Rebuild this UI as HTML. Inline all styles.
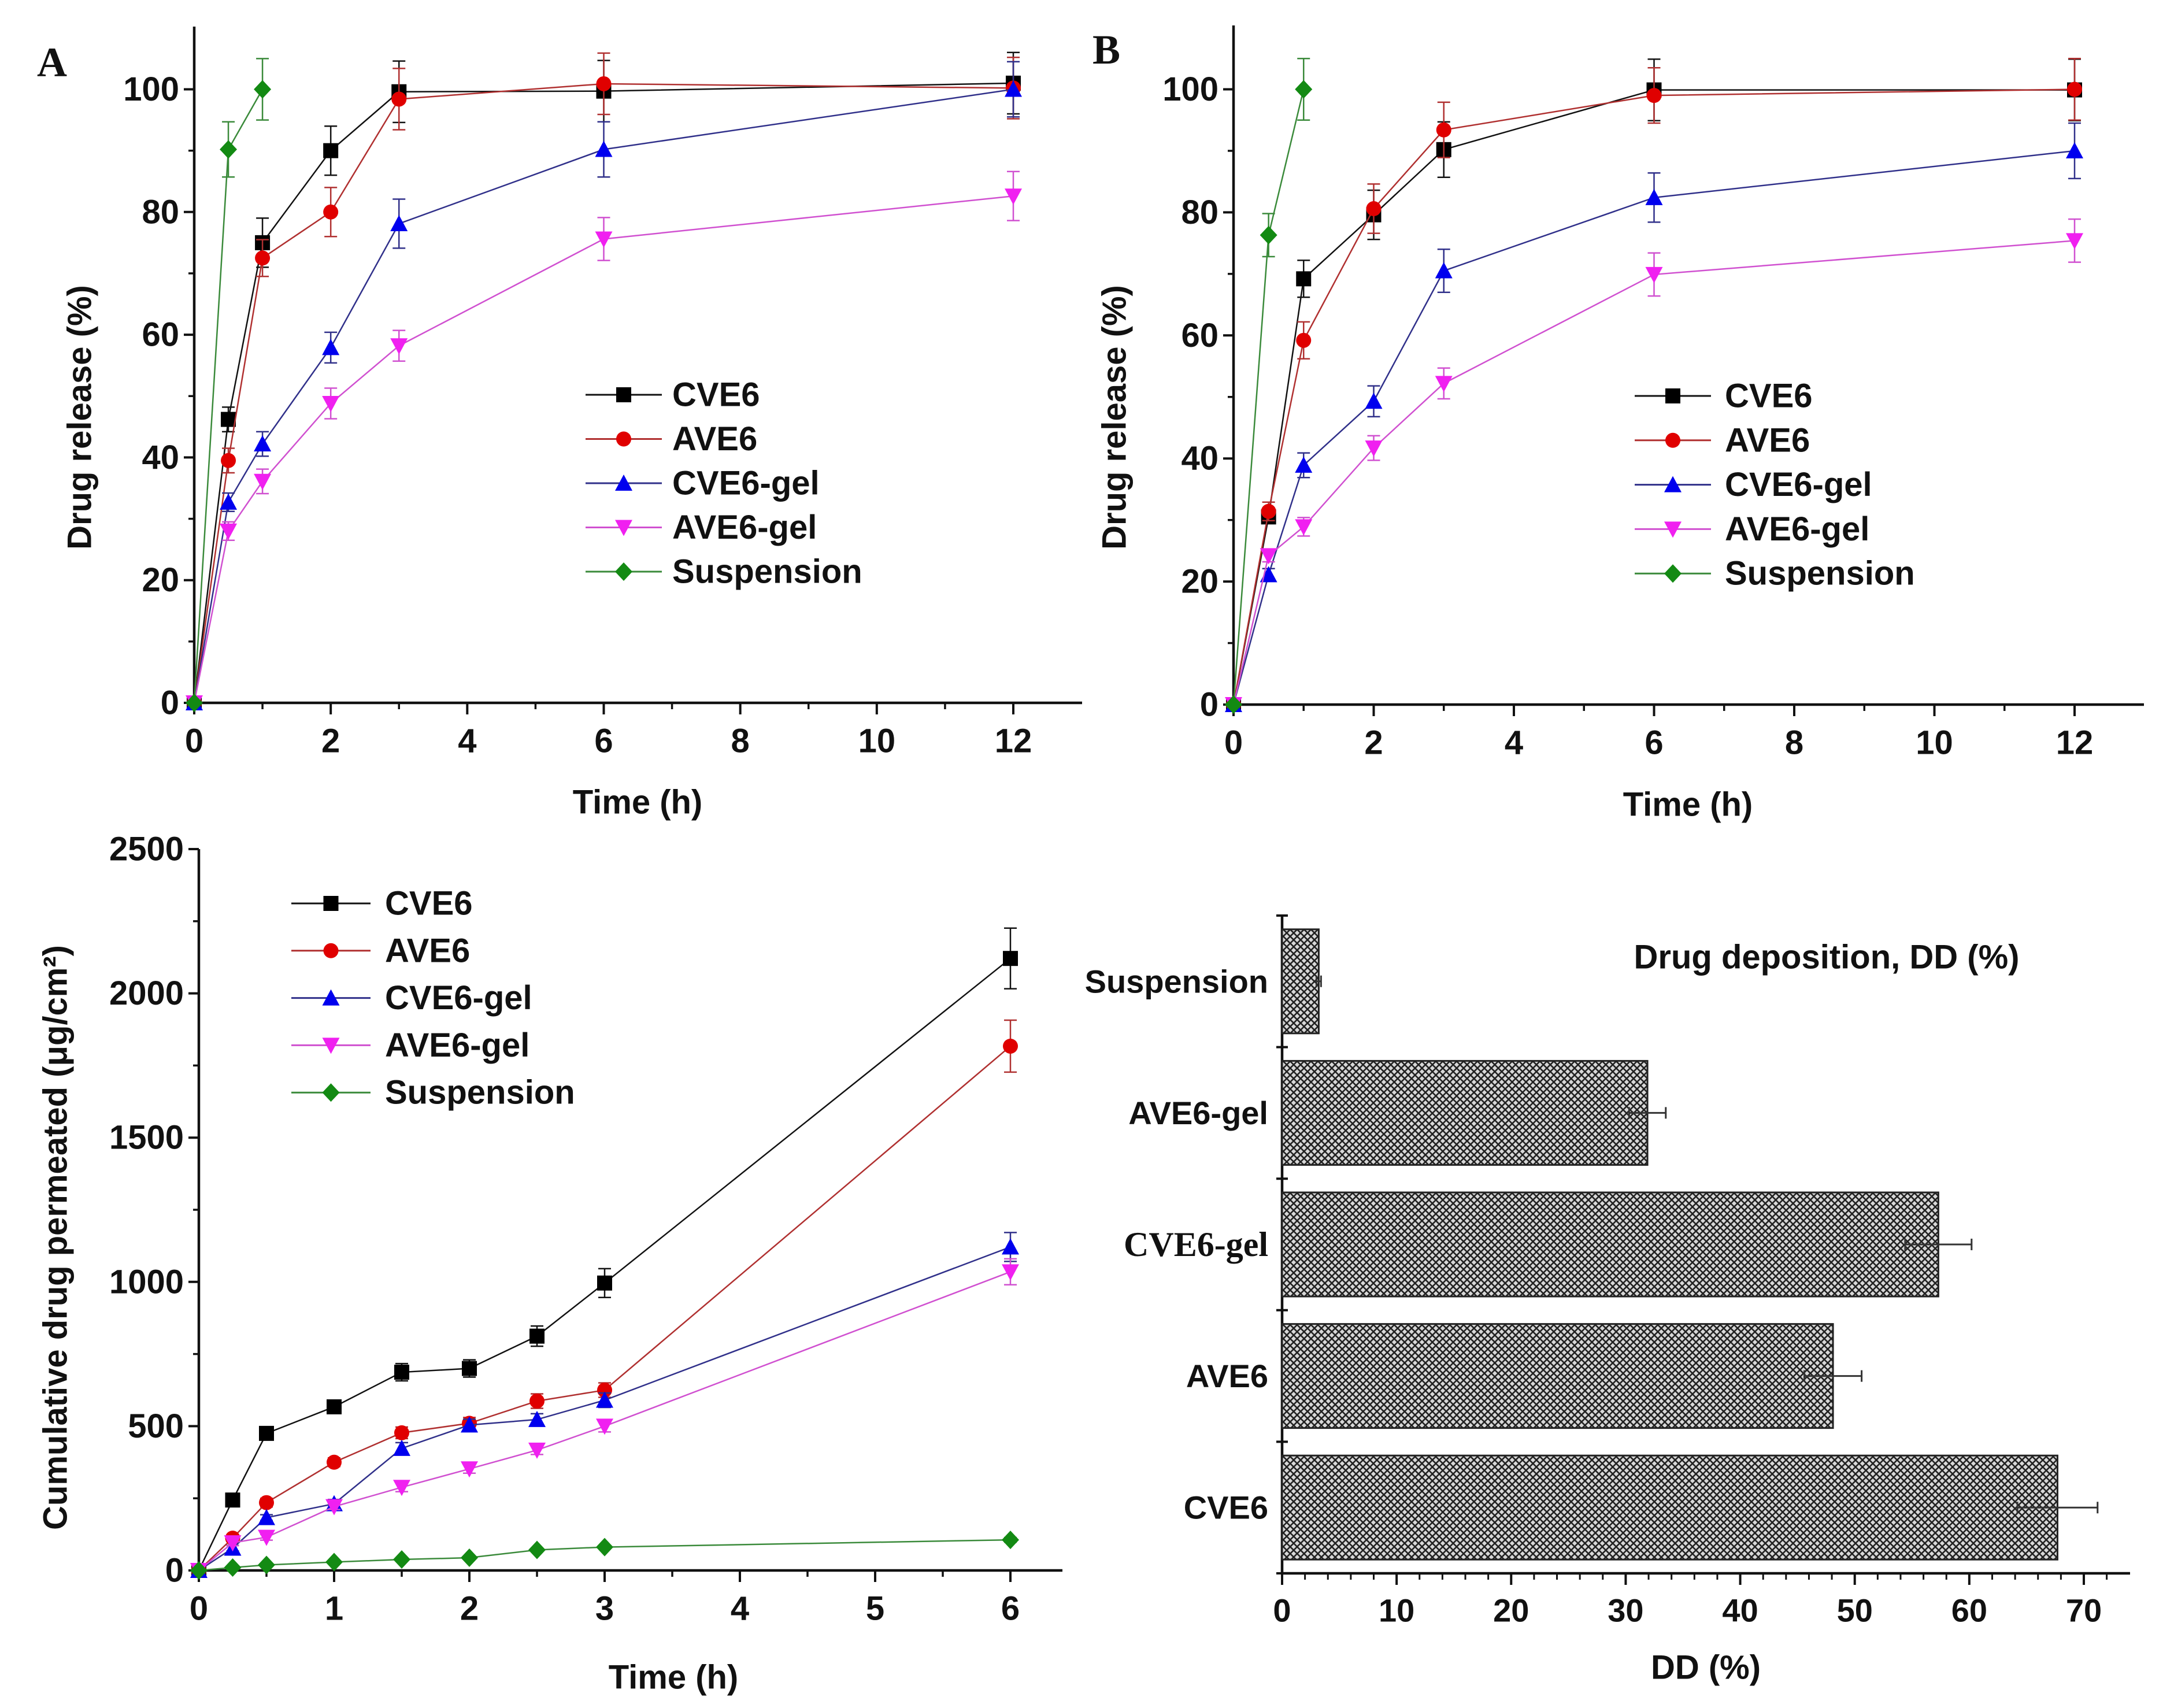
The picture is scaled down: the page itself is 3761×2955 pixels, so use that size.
<!DOCTYPE html>
<html><head><meta charset="utf-8"><style>
html,body{margin:0;padding:0;background:#fff}
svg{display:block}
text{font-family:"Liberation Sans",Arial,sans-serif;font-weight:bold;fill:#111}
</style></head><body>
<svg id="fig" width="3761" height="2955" viewBox="0 0 3761 2955" xmlns="http://www.w3.org/2000/svg">
<defs>
<pattern id="hatch" width="12" height="12" patternUnits="userSpaceOnUse">
<rect width="12" height="12" fill="#d8d8d8"/>
<path d="M0,0 L12,12 M12,0 L0,12" stroke="#222" stroke-width="2.6"/>
</pattern>
</defs>
</svg>
<script>
// ---- data ----
const seriesNames = ["CVE6","AVE6","CVE6-gel","AVE6-gel","Suspension"];
const releaseTimes = [0,0.5,1,2,3,6,12];
const suspTimes = [0,0.5,1];
const A_CVE6 = [0,46.2,75,90,99.6,99.7,101];
const A_AVE6 = [0,39.5,72.5,80,98.4,100.9,100.2];
const A_CVE6gel = [0,32.7,42.2,57.9,78.1,90.2,100];
const A_AVE6gel = [0,28,36.1,48.8,58.2,75.6,82.6];
const A_Susp = [0,90.2,100];
const A_errCVE6 = [0,2,4,4,5,5,5];
const A_errAVE6 = [0,2,3,4,5,5,5];
const A_errCVE6gel = [0,1.5,2,2.5,4,4.5,4.5];
const A_errAVE6gel = [0,1.5,2,2.5,2.5,3.5,4];
const A_errSusp = [0,4.5,5];
const B_CVE6 = [0,30.5,69.2,79.6,90.2,99.9,99.9];
const B_AVE6 = [0,31.4,59.2,80.6,93.4,99,100];
const B_CVE6gel = [0,21.1,38.9,49.3,70.5,82.4,90];
const B_AVE6gel = [0,24.2,28.9,41.7,52.2,69.9,75.4];
const B_Susp = [0,76.3,100];
const B_errCVE6 = [0,1,3,4,4.5,5,5];
const B_errAVE6 = [0,1.5,3,4,4.5,4.5,5];
const B_errCVE6gel = [0,1,2,2.5,3.5,4,4.5];
const B_errAVE6gel = [0,1,1.5,2,2.5,3.5,3.5];
const B_errSusp = [0,3.5,5];
const permTimes = [0,0.25,0.5,1,1.5,2,2.5,3,6];
const C_CVE6 = [0,244,475,567,687,700,812,996,2121];
const C_AVE6 = [0,112,235,375,477,510,587,625,1817];
const C_CVE6gel = [0,77,183,231,423,504,523,590,1121];
const C_AVE6gel = [0,96,115,221,288,352,417,500,1035];
const C_Susp = [0,10,19,29,38,44,71,81,106];
const C_errCVE6 = [0,15,20,20,30,30,35,50,105];
const C_errAVE6 = [0,10,15,15,20,20,25,25,90];
const C_errCVE6gel = [0,10,10,15,20,20,20,25,50];
const C_errAVE6gel = [0,10,10,10,15,15,15,20,45];
const C_errSusp = [0,3,3,4,4,5,6,6,8];
const ddCategories = ["Suspension","AVE6-gel","CVE6-gel","AVE6","CVE6"];
const ddValues = [3.2,31.9,57.3,48.1,67.7];
const ddErrors = [0.2,1.6,2.9,2.5,3.5];
const releaseYTicks = [0,20,40,60,80,100];
const releaseXTicks = [0,2,4,6,8,10,12];
const permYTicks = [0,500,1000,1500,2000,2500];
const permXTicks = [0,1,2,3,4,5,6];
const ddXTicks = [0,10,20,30,40,50,60,70];

const svg = document.getElementById('fig');
const NS = 'http://www.w3.org/2000/svg';
function mk(tag, attrs, parent){const e=document.createElementNS(NS,tag);for(const k in attrs)e.setAttribute(k,attrs[k]);(parent||svg).appendChild(e);return e;}
function txt(s,x,y,size,anchor,parent,extra){const t=mk('text',Object.assign({x:x,y:y,'font-size':size,'text-anchor':anchor||'middle','dominant-baseline':'central'},extra||{}),parent);t.textContent=s;return t;}

const mColors = ["#000","#e00000","#0000ee","#f020f0","#138a13"];
const lColors = ["#111","#b03030","#30308a","#d050d0","#3a8a3a"];
const shapes = ["sq","ci","tu","td","di"];
function marker(shape,x,y,c,g){
  const s=13;
  if(shape==='sq') return mk('rect',{x:x-s,y:y-s,width:2*s,height:2*s,fill:c},g);
  if(shape==='ci') return mk('circle',{cx:x,cy:y,r:s,fill:c},g);
  if(shape==='tu') return mk('polygon',{points:`${x},${y-s-2} ${x-s-2},${y+s} ${x+s+2},${y+s}`,fill:c},g);
  if(shape==='td') return mk('polygon',{points:`${x},${y+s+2} ${x-s-2},${y-s} ${x+s+2},${y-s}`,fill:c},g);
  return mk('polygon',{points:`${x},${y-s-3} ${x+s+2},${y} ${x},${y+s+3} ${x-s-2},${y}`,fill:c},g);
}

function linePanel(cfg){
  const g=mk('g',{});
  
  
  const X=v=>cfg.x0+(v-cfg.xmin)*(cfg.x1-cfg.x0)/(cfg.xmax-cfg.xmin);
  const Y=v=>cfg.y0+(v-cfg.ymin)*(cfg.y1-cfg.y0)/(cfg.ymax-cfg.ymin);
  // axes
  const ax=mk('path',{d:`M${X(cfg.xmin)},${cfg.ytop} L${X(cfg.xmin)},${Y(cfg.ymin)} L${cfg.xright},${Y(cfg.ymin)}`,stroke:'#111','stroke-width':4.5,fill:'none'},g);
  
  
  cfg.yTicks.forEach(v=>{
    mk('line',{x1:X(cfg.xmin)-18,x2:X(cfg.xmin),y1:Y(v),y2:Y(v),stroke:'#111','stroke-width':4},g);
    const t=txt(String(v),X(cfg.xmin)-26,Y(v),58,'end',g);
    
    
  });
  for(let i=0;i<cfg.yTicks.length-1;i++){const m=(cfg.yTicks[i]+cfg.yTicks[i+1])/2;mk('line',{x1:X(cfg.xmin)-10,x2:X(cfg.xmin),y1:Y(m),y2:Y(m),stroke:'#111','stroke-width':3.5},g);}
  cfg.xTicks.forEach(v=>{
    mk('line',{x1:X(v),x2:X(v),y1:Y(cfg.ymin),y2:Y(cfg.ymin)+20,stroke:'#111','stroke-width':4},g);
    const t=txt(String(v),X(v),Y(cfg.ymin)+66,58,'middle',g);
    
    
  });
  for(let i=0;i<cfg.xTicks.length;i++){const m=cfg.xTicks[i]+(cfg.xTicks[1]-cfg.xTicks[0])/2;if(X(m)<cfg.xright-5)mk('line',{x1:X(m),x2:X(m),y1:Y(cfg.ymin),y2:Y(cfg.ymin)+11,stroke:'#111','stroke-width':3.5},g);}
  const xt=txt(cfg.xTitle,cfg.xTitlePos[0],cfg.xTitlePos[1],58,'middle',g);
  
  
  const yt=txt(cfg.yTitle,0,0,58,'middle',g,{transform:`translate(${cfg.yTitlePos[0]},${cfg.yTitlePos[1]}) rotate(-90)`});
  
  
  if(cfg.letter){const L=txt(cfg.letter,cfg.letterPos[0],cfg.letterPos[1],72,'middle',g,{style:'font-family:"Liberation Serif",serif'});
    
    }
  // series
  cfg.series.forEach((s,i)=>{
    const sg=mk('g',{},g);
    
    
    const pts=s.vals.map((v,j)=>X(s.t[j])+','+Y(v)).join(' ');
    mk('polyline',{points:pts,fill:'none',stroke:lColors[i],'stroke-width':2.5},sg);
    s.vals.forEach((v,j)=>{
      const e=s.err[j];
      if(e>0){mk('path',{d:`M${X(s.t[j])},${Y(v-e)} L${X(s.t[j])},${Y(v+e)} M${X(s.t[j])-11},${Y(v-e)} h22 M${X(s.t[j])-11},${Y(v+e)} h22`,stroke:lColors[i],'stroke-width':2.5,fill:'none'},sg);}
      const m=marker(shapes[i],X(s.t[j]),Y(v),mColors[i],sg);
      
      
    });
  });
  // legend
  const lg=mk('g',{},g);
  
  
  seriesNames.forEach((n,i)=>{
    const y=cfg.leg.y+i*cfg.leg.dy;
    const eg=mk('g',{},lg);
    
    
    mk('line',{x1:cfg.leg.x1,x2:cfg.leg.x2,y1:y,y2:y,stroke:lColors[i],'stroke-width':3},eg);
    marker(shapes[i],(cfg.leg.x1+cfg.leg.x2)/2,y,mColors[i],eg);
    txt(n,cfg.leg.tx,y,58,'start',eg);
  });
}

linePanel({name:'panel-a-release',x0:336,x1:1753,xmin:0,xmax:12,y0:1216,y1:154.5,ymin:0,ymax:100,ytop:46,xright:1872,
  yTicks:releaseYTicks,xTicks:releaseXTicks,xTitle:'Time (h)',xTitlePos:[1103,1388],yTitle:'Drug release (%)',yTitlePos:[138,722],
  letter:'A',letterPos:[90,108],leg:{x1:1013,x2:1145,tx:1163,y:683,dy:76.5},
  series:[{t:releaseTimes,vals:A_CVE6,err:A_errCVE6},{t:releaseTimes,vals:A_AVE6,err:A_errAVE6},{t:releaseTimes,vals:A_CVE6gel,err:A_errCVE6gel},{t:releaseTimes,vals:A_AVE6gel,err:A_errAVE6gel},{t:suspTimes,vals:A_Susp,err:A_errSusp}]});

linePanel({name:'panel-b-release',x0:2134,x1:3589,xmin:0,xmax:12,y0:1219,y1:154.5,ymin:0,ymax:100,ytop:44,xright:3709,
  yTicks:releaseYTicks,xTicks:releaseXTicks,xTitle:'Time (h)',xTitlePos:[2920,1392],yTitle:'Drug release (%)',yTitlePos:[1928,722],
  letter:'B',letterPos:[1914,86],leg:{x1:2828,x2:2960,tx:2984,y:685,dy:76.8},
  series:[{t:releaseTimes,vals:B_CVE6,err:B_errCVE6},{t:releaseTimes,vals:B_AVE6,err:B_errAVE6},{t:releaseTimes,vals:B_CVE6gel,err:B_errCVE6gel},{t:releaseTimes,vals:B_AVE6gel,err:B_errAVE6gel},{t:suspTimes,vals:B_Susp,err:B_errSusp}]});

linePanel({name:'panel-c-permeation',x0:344,x1:1748,xmin:0,xmax:6,y0:2717,y1:1469,ymin:0,ymax:2500,ytop:1469,xright:1838,
  yTicks:permYTicks,xTicks:permXTicks,xTitle:'Time (h)',xTitlePos:[1165,2902],yTitle:'Cumulative drug permeated (μg/cm²)',yTitlePos:[96,2141],
  letter:null,leg:{x1:504,x2:641,tx:666,y:1563,dy:81.8},
  series:[{t:permTimes,vals:C_CVE6,err:C_errCVE6},{t:permTimes,vals:C_AVE6,err:C_errAVE6},{t:permTimes,vals:C_CVE6gel,err:C_errCVE6gel},{t:permTimes,vals:C_AVE6gel,err:C_errAVE6gel},{t:permTimes,vals:C_Susp,err:C_errSusp}]});

// ---- Panel D: bar chart ----
(function(){
  const g=mk('g',{});
  
  
  const x0=2218, x70=3605, top=1584, bottom=2722;
  const X=v=>x0+v*(x70-x0)/70;
  const band=(bottom-top)/ddCategories.length;
  mk('path',{d:`M${x0},${top} L${x0},${bottom} L3685,${bottom}`,stroke:'#111','stroke-width':4.5,fill:'none'},g);
  for(let i=0;i<=ddCategories.length;i++){const y=top+i*band;mk('line',{x1:x0-10,x2:x0+10,y1:y,y2:y,stroke:'#111','stroke-width':4},g);}
  ddXTicks.forEach(v=>{
    mk('line',{x1:X(v),x2:X(v),y1:bottom,y2:bottom+20,stroke:'#111','stroke-width':4},g);
    const t=txt(String(v),X(v),bottom+64,56,'middle',g);
    
    
  });
  for(let v=2;v<74;v+=2){if(v%10)mk('line',{x1:X(v),x2:X(v),y1:bottom,y2:bottom+11,stroke:'#111','stroke-width':3},g);}
  ddCategories.forEach((c,i)=>{
    const cy=top+band*(i+0.5);
    const b=mk('rect',{x:x0,y:cy-90,width:X(ddValues[i])-x0,height:180,fill:'url(#hatch)',stroke:'#222','stroke-width':3},g);
    
    
    const e=ddErrors[i];
    mk('path',{d:`M${X(ddValues[i]-e)},${cy} L${X(ddValues[i]+e)},${cy} M${X(ddValues[i]-e)},${cy-10} v20 M${X(ddValues[i]+e)},${cy-10} v20`,stroke:'#333','stroke-width':3,fill:'none'},g);
    const serif=(c==='CVE6-gel');
    const t=txt(c,2194,cy,serif?60:56,'end',g,serif?{style:'font-family:"Liberation Serif",serif'}:{});
    
    
  });
  const tt=txt('Drug deposition, DD (%)',3160,1656,58,'middle',g);
  
  
  const xt=txt('DD (%)',2951,2885,58,'middle',g);
  
  
})();
</script>
</body></html>
